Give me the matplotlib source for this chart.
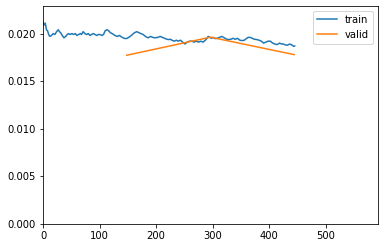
import matplotlib
matplotlib.use("Agg")
import matplotlib.pyplot as plt

# train loss (approx)
train_x = [0, 2, 4, 6, 8, 10, 12, 15, 18, 21, 24, 27, 29, 31, 34, 37, 40, 43, 45, 48,
           51, 54, 57, 60, 63, 66, 68, 71, 74, 77, 80, 83, 86, 89, 92, 95, 98, 101,
           104, 107, 110, 113, 116, 119, 122, 125, 127, 131, 135, 140, 145, 149, 154,
           158, 162, 166, 169, 173, 177, 181, 186, 190, 194, 198, 203, 207, 211, 215,
           219, 222, 225, 228, 232, 236, 239, 243, 247, 251, 255, 259, 263, 267, 271,
           275, 279, 283, 287, 290, 292, 295, 298, 301, 304, 308, 312, 316, 319, 322,
           325, 328, 332, 336, 340, 344, 348, 352, 356, 360, 363, 366, 370, 374, 378,
           382, 386, 390, 394, 398, 402, 406, 410, 414, 418, 422, 425, 429, 432, 436,
           440, 443, 445]
train_y = [0.0212, 0.0209, 0.0211, 0.0204, 0.0203, 0.0199, 0.0197, 0.0198, 0.0200, 0.0199,
           0.0202, 0.0204, 0.0202, 0.0201, 0.0198, 0.01955, 0.0197, 0.0199, 0.0200, 0.0199,
           0.0200, 0.0199, 0.0200, 0.0198, 0.0199, 0.0200, 0.0199, 0.0202, 0.0200, 0.0199,
           0.0200, 0.0198, 0.0199, 0.0200, 0.0199, 0.0198, 0.0199, 0.0199, 0.0198, 0.0199,
           0.0203, 0.0204, 0.0203, 0.0201, 0.0200, 0.0199, 0.0198, 0.0197, 0.0198, 0.0196,
           0.01947, 0.0195, 0.0197, 0.0199, 0.0201, 0.0202, 0.0201, 0.0200, 0.0199, 0.0197,
           0.01955, 0.0197, 0.0196, 0.01955, 0.0196, 0.0197, 0.0196, 0.0195, 0.0194, 0.01937,
           0.0194, 0.0193, 0.0192, 0.0193, 0.0192, 0.0193, 0.0191, 0.0189, 0.0191, 0.0192,
           0.0192, 0.0191, 0.0192, 0.0191, 0.0192, 0.0191, 0.0193, 0.0195, 0.0197, 0.0196,
           0.0195, 0.0196, 0.01947, 0.0195, 0.0196, 0.0197, 0.0196, 0.0195, 0.0194, 0.01937,
           0.0194, 0.0195, 0.0194, 0.0195, 0.0193, 0.01926, 0.0193, 0.0195, 0.0196, 0.0196,
           0.0195, 0.0194, 0.01937, 0.0193, 0.0192, 0.0190, 0.0191, 0.0192, 0.0192, 0.0190,
           0.0189, 0.01884, 0.0190, 0.0189, 0.0189, 0.0188, 0.01877, 0.0189, 0.0188, 0.01866,
           0.0187]

# validation loss, one point per epoch
valid_x = [148, 296, 444]
valid_y = [0.01772, 0.01962, 0.01779]

# notebook-style rendering at 72 dpi
fig = plt.figure(figsize=(384 / 72, 248 / 72), dpi=72)
ax = fig.add_axes([0.112, 0.097, 0.872, 0.879])
ax.plot(train_x, train_y, label="train", linewidth=1.5)
ax.plot(valid_x, valid_y, label="valid", linewidth=1.5)
ax.set_xlim(0, 592)
ax.set_ylim(0, 0.0229)
ax.set_xticks([0, 100, 200, 300, 400, 500])
ax.set_yticks([0.0, 0.005, 0.010, 0.015, 0.020])
ax.set_yticklabels(["0.000", "0.005", "0.010", "0.015", "0.020"])
ax.legend(loc="upper right")
fig.savefig("out.png", dpi=72)
